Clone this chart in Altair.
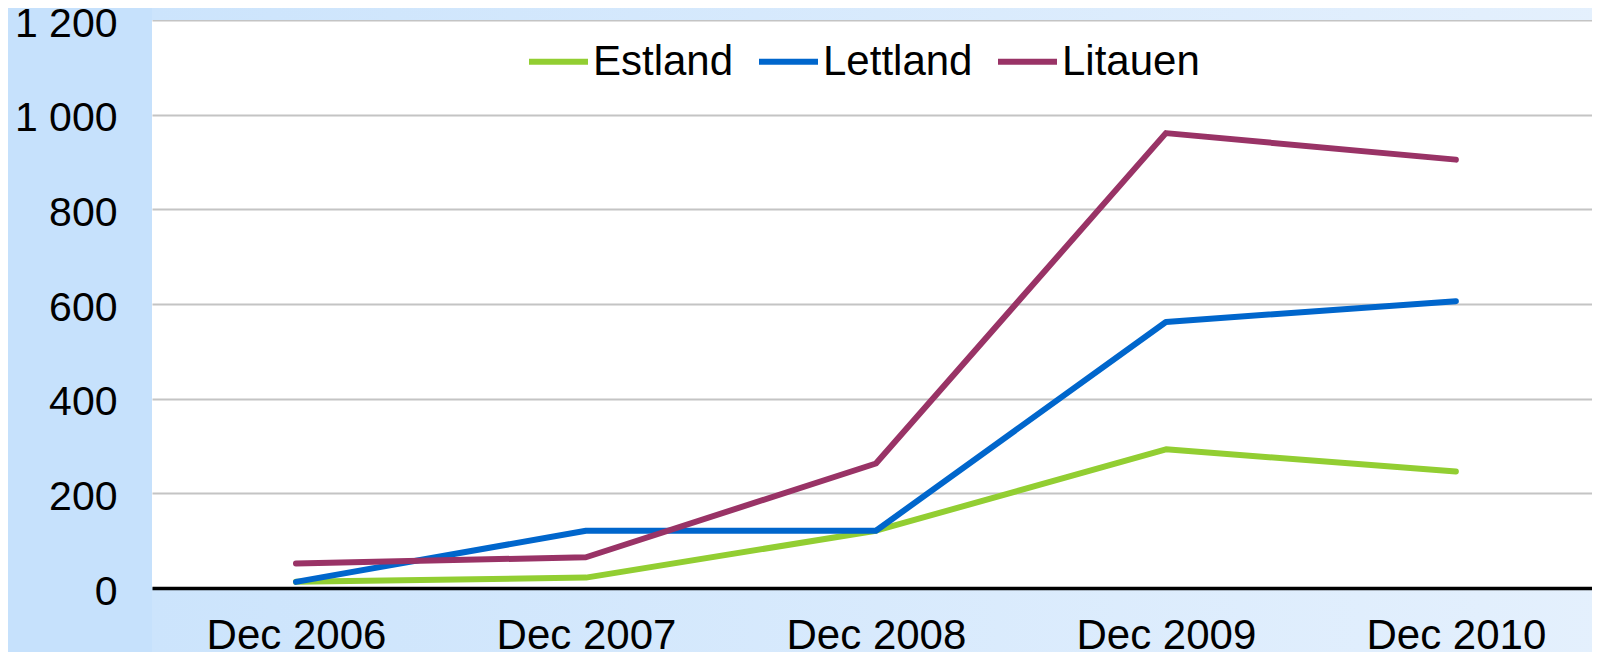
import altair as alt
import pandas as pd

dates = ["Dec 2006", "Dec 2007", "Dec 2008", "Dec 2009", "Dec 2010"]
estland = [13, 22, 121, 293, 246]
lettland = [13, 121, 121, 562, 606]
litauen = [52, 65, 263, 961, 905]
series_names = ["Estland", "Lettland", "Litauen"]
series_colors = ["#92CE32", "#0066CC", "#993366"]
y_ticks = [0, 200, 400, 600, 800, 1000, 1200]

rows = []
for name, vals in zip(series_names, [estland, lettland, litauen]):
    for d, v in zip(dates, vals):
        rows.append({"date": d, "land": name, "value": v})
df = pd.DataFrame(rows)

W, H = 1440, 568
PAD_L, PAD_T, PAD_B = 144, 12, 64
FONT = "Liberation Sans"
BG_LEFT, BG_MID, BG_RIGHT = "#C6E1FC", "#CCE4FC", "#E4F0FD"

grad = alt.LinearGradient(
    gradient="linear",
    stops=[alt.GradientStop(color=BG_MID, offset=0), alt.GradientStop(color=BG_RIGHT, offset=1)],
    x1=0, x2=1, y1=0, y2=0,
)
one = alt.Data(values=[{}])

top_strip = alt.Chart(one).mark_rect(fill=grad, strokeWidth=0).encode(
    x=alt.value(0), x2=alt.value(W + 10), y=alt.value(-PAD_T - 2), y2=alt.value(0)
)
bottom_strip = alt.Chart(one).mark_rect(fill=grad, strokeWidth=0).encode(
    x=alt.value(0), x2=alt.value(W + 10), y=alt.value(H), y2=alt.value(H + PAD_B + 2)
)

lines = alt.Chart(df).mark_line(strokeWidth=6, strokeCap="round", strokeJoin="round").encode(
    x=alt.X(
        "date:N",
        sort=dates,
        scale=alt.Scale(type="point", padding=0.483, align=0.514),
        axis=alt.Axis(
            title=None, labelAngle=0, ticks=False, grid=False, domain=True,
            domainColor="#000000", domainWidth=3.5, labelFontSize=42, labelFont=FONT,
            labelColor="#000000", labelPadding=27, zindex=1,
        ),
    ),
    y=alt.Y(
        "value:Q",
        scale=alt.Scale(domain=[0, 1200], nice=False),
        axis=alt.Axis(
            title=None, values=y_ticks, ticks=False, domain=False, grid=True,
            gridColor="#C4C4C4", gridWidth=2, labelFontSize=41, labelFont=FONT,
            labelColor="#000000", labelPadding=35, labelOffset=4,
            labelExpr="replace(format(datum.value, ','), ',', ' ')", zindex=0,
        ),
    ),
    color=alt.Color(
        "land:N",
        scale=alt.Scale(domain=series_names, range=series_colors),
        legend=alt.Legend(
            title=None, orient="none", legendX=374, legendY=9, direction="horizontal",
            symbolType="stroke", symbolSize=3481, symbolStrokeWidth=6,
            labelFontSize=42, labelFont=FONT, labelColor="#000000",
            labelOffset=2, columnPadding=13, padding=0,
        ),
    ),
)

chart = alt.layer(top_strip, bottom_strip, lines).properties(
    width=W, height=H,
    autosize=alt.AutoSizeParams(type="none"),
    padding={"left": PAD_L, "top": PAD_T, "right": 0, "bottom": PAD_B},
    background=BG_LEFT,
).configure_view(fill="#FFFFFF", stroke=None)

chart.save("out.html", embed_options={"renderer": "svg", "actions": False})
